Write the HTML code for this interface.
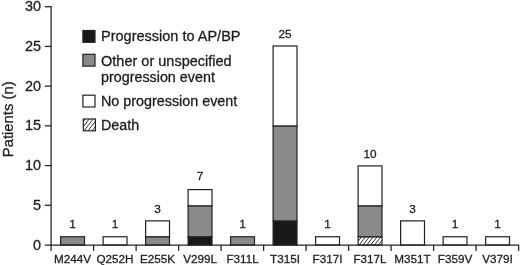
<!DOCTYPE html>
<html><head><meta charset="utf-8"><title>chart</title>
<style>
html,body{margin:0;padding:0;background:#fff;}
body{width:520px;height:265px;overflow:hidden;}
svg{display:block;}
text{font-family:"Liberation Sans",Arial,Helvetica,sans-serif;fill:#1c1c1c;stroke:#1c1c1c;stroke-width:0.28px;}
</style></head><body>
<svg width="520" height="265" viewBox="0 0 520 265">
<rect width="520" height="265" fill="#fff"/>

<rect x="60.60" y="236.76" width="23.9" height="8.24" fill="#8a8a8a" stroke="#222" stroke-width="1.2"/>
<text x="72.55" y="227.96" font-size="11.8" text-anchor="middle">1</text>
<text x="72.55" y="263.2" font-size="11.7" text-anchor="middle">M244V</text>
<rect x="103.10" y="236.76" width="23.9" height="8.24" fill="#ffffff" stroke="#222" stroke-width="1.2"/>
<text x="115.05" y="227.96" font-size="11.8" text-anchor="middle">1</text>
<text x="115.05" y="263.2" font-size="11.7" text-anchor="middle">Q252H</text>
<rect x="145.60" y="236.76" width="23.9" height="8.24" fill="#8a8a8a" stroke="#222" stroke-width="1.2"/>
<rect x="145.60" y="220.87" width="23.9" height="15.89" fill="#ffffff" stroke="#222" stroke-width="1.2"/>
<text x="157.55" y="212.50" font-size="11.8" text-anchor="middle">3</text>
<text x="157.55" y="263.2" font-size="11.7" text-anchor="middle">E255K</text>
<rect x="188.10" y="236.76" width="23.9" height="8.24" fill="#181818" stroke="#222" stroke-width="1.2"/>
<rect x="188.10" y="205.80" width="23.9" height="30.96" fill="#8a8a8a" stroke="#222" stroke-width="1.2"/>
<rect x="188.10" y="189.60" width="23.9" height="16.20" fill="#ffffff" stroke="#222" stroke-width="1.2"/>
<text x="200.05" y="180.20" font-size="11.8" text-anchor="middle">7</text>
<text x="200.05" y="263.2" font-size="11.7" text-anchor="middle">V299L</text>
<rect x="230.60" y="236.76" width="23.9" height="8.24" fill="#8a8a8a" stroke="#222" stroke-width="1.2"/>
<text x="242.55" y="227.96" font-size="11.8" text-anchor="middle">1</text>
<text x="242.55" y="263.2" font-size="11.7" text-anchor="middle">F311L</text>
<rect x="273.10" y="220.90" width="23.9" height="24.10" fill="#181818" stroke="#222" stroke-width="1.2"/>
<rect x="273.10" y="125.90" width="23.9" height="95.00" fill="#8a8a8a" stroke="#222" stroke-width="1.2"/>
<rect x="273.10" y="46.00" width="23.9" height="79.90" fill="#ffffff" stroke="#222" stroke-width="1.2"/>
<text x="285.05" y="38.30" font-size="11.8" text-anchor="middle">25</text>
<text x="285.05" y="263.2" font-size="11.7" text-anchor="middle">T315I</text>
<rect x="315.60" y="236.76" width="23.9" height="8.24" fill="#ffffff" stroke="#222" stroke-width="1.2"/>
<text x="327.55" y="227.96" font-size="11.8" text-anchor="middle">1</text>
<text x="327.55" y="263.2" font-size="11.7" text-anchor="middle">F317I</text>
<rect x="358.10" y="236.76" width="23.9" height="8.24" fill="#ffffff" stroke="#222" stroke-width="1.2"/>
<clipPath id="c1"><rect x="358.10" y="236.76" width="23.90" height="8.24"/></clipPath>
<path clip-path="url(#c1)" d="M351.40 245.00L357.84 236.76M355.25 245.00L361.69 236.76M359.10 245.00L365.54 236.76M362.95 245.00L369.39 236.76M366.80 245.00L373.24 236.76M370.65 245.00L377.09 236.76M374.50 245.00L380.94 236.76M378.35 245.00L384.79 236.76M382.20 245.00L388.64 236.76" stroke="#222" stroke-width="0.95" fill="none"/>
<rect x="358.10" y="205.80" width="23.9" height="30.96" fill="#8a8a8a" stroke="#222" stroke-width="1.2"/>
<rect x="358.10" y="165.90" width="23.9" height="39.90" fill="#ffffff" stroke="#222" stroke-width="1.2"/>
<text x="370.05" y="157.90" font-size="11.8" text-anchor="middle">10</text>
<text x="370.05" y="263.2" font-size="11.7" text-anchor="middle">F317L</text>
<rect x="400.60" y="220.87" width="23.9" height="24.13" fill="#ffffff" stroke="#222" stroke-width="1.2"/>
<text x="412.55" y="212.50" font-size="11.8" text-anchor="middle">3</text>
<text x="412.55" y="263.2" font-size="11.7" text-anchor="middle">M351T</text>
<rect x="443.10" y="236.76" width="23.9" height="8.24" fill="#ffffff" stroke="#222" stroke-width="1.2"/>
<text x="455.05" y="227.96" font-size="11.8" text-anchor="middle">1</text>
<text x="455.05" y="263.2" font-size="11.7" text-anchor="middle">F359V</text>
<rect x="485.60" y="236.76" width="23.9" height="8.24" fill="#ffffff" stroke="#222" stroke-width="1.2"/>
<text x="497.55" y="227.96" font-size="11.8" text-anchor="middle">1</text>
<text x="497.55" y="263.2" font-size="11.7" text-anchor="middle">V379I</text>
<path d="M51.1 6.11V250.9" fill="none" stroke="#222" stroke-width="1.25"/>
<path d="M44.800000000000004 245.0H519.2" fill="none" stroke="#222" stroke-width="1.25"/>
<text transform="translate(41.1,249.60) scale(1.033,1)" font-size="14" text-anchor="end">0</text>
<path d="M44.800000000000004 205.28H51.1" stroke="#222" stroke-width="1.25"/>
<text transform="translate(41.1,209.88) scale(1.033,1)" font-size="14" text-anchor="end">5</text>
<path d="M44.800000000000004 165.57H51.1" stroke="#222" stroke-width="1.25"/>
<text transform="translate(41.1,170.17) scale(1.033,1)" font-size="14" text-anchor="end">10</text>
<path d="M44.800000000000004 125.86H51.1" stroke="#222" stroke-width="1.25"/>
<text transform="translate(41.1,130.46) scale(1.033,1)" font-size="14" text-anchor="end">15</text>
<path d="M44.800000000000004 86.14H51.1" stroke="#222" stroke-width="1.25"/>
<text transform="translate(41.1,90.74) scale(1.033,1)" font-size="14" text-anchor="end">20</text>
<path d="M44.800000000000004 46.43H51.1" stroke="#222" stroke-width="1.25"/>
<text transform="translate(41.1,51.03) scale(1.033,1)" font-size="14" text-anchor="end">25</text>
<path d="M44.800000000000004 6.71H51.1" stroke="#222" stroke-width="1.25"/>
<text transform="translate(41.1,11.31) scale(1.033,1)" font-size="14" text-anchor="end">30</text>
<path d="M93.60 245.0V250.9" stroke="#222" stroke-width="1.25"/>
<path d="M136.10 245.0V250.9" stroke="#222" stroke-width="1.25"/>
<path d="M178.60 245.0V250.9" stroke="#222" stroke-width="1.25"/>
<path d="M221.10 245.0V250.9" stroke="#222" stroke-width="1.25"/>
<path d="M263.60 245.0V250.9" stroke="#222" stroke-width="1.25"/>
<path d="M306.10 245.0V250.9" stroke="#222" stroke-width="1.25"/>
<path d="M348.60 245.0V250.9" stroke="#222" stroke-width="1.25"/>
<path d="M391.10 245.0V250.9" stroke="#222" stroke-width="1.25"/>
<path d="M433.60 245.0V250.9" stroke="#222" stroke-width="1.25"/>
<path d="M476.10 245.0V250.9" stroke="#222" stroke-width="1.25"/>
<path d="M518.60 245.0V250.9" stroke="#222" stroke-width="1.25"/>
<text transform="translate(13,119.3) rotate(-90) scale(1.06,1)" font-size="14" text-anchor="middle">Patients (n)</text>
<rect x="82.9" y="30.50" width="12.1" height="11.8" fill="#181818" stroke="#222" stroke-width="1.2"/>
<text transform="translate(101,41.4) scale(1.037,1)" font-size="14">Progression to AP/BP</text>
<rect x="82.9" y="54.30" width="12.1" height="11.8" fill="#8a8a8a" stroke="#222" stroke-width="1.2"/>
<text transform="translate(101,65.6) scale(1.037,1)" font-size="14">Other or unspecified</text>
<text transform="translate(101,82.1) scale(1.024,1)" font-size="14">progression event</text>
<rect x="82.9" y="95.20" width="12.1" height="11.8" fill="#ffffff" stroke="#222" stroke-width="1.2"/>
<text transform="translate(101,105.7) scale(1.025,1)" font-size="14">No progression event</text>
<rect x="83.3" y="119.00" width="12.1" height="11.8" fill="#ffffff" stroke="#222" stroke-width="1.2"/>
<clipPath id="c2"><rect x="83.30" y="119.00" width="12.10" height="11.80"/></clipPath>
<path clip-path="url(#c2)" d="M76.00 130.80L85.22 119.00M80.00 130.80L89.22 119.00M84.00 130.80L93.22 119.00M88.00 130.80L97.22 119.00M92.00 130.80L101.22 119.00M96.00 130.80L105.22 119.00" stroke="#222" stroke-width="0.95" fill="none"/>
<text transform="translate(101,129.7) scale(1.02,1)" font-size="14">Death</text>
</svg></body></html>
